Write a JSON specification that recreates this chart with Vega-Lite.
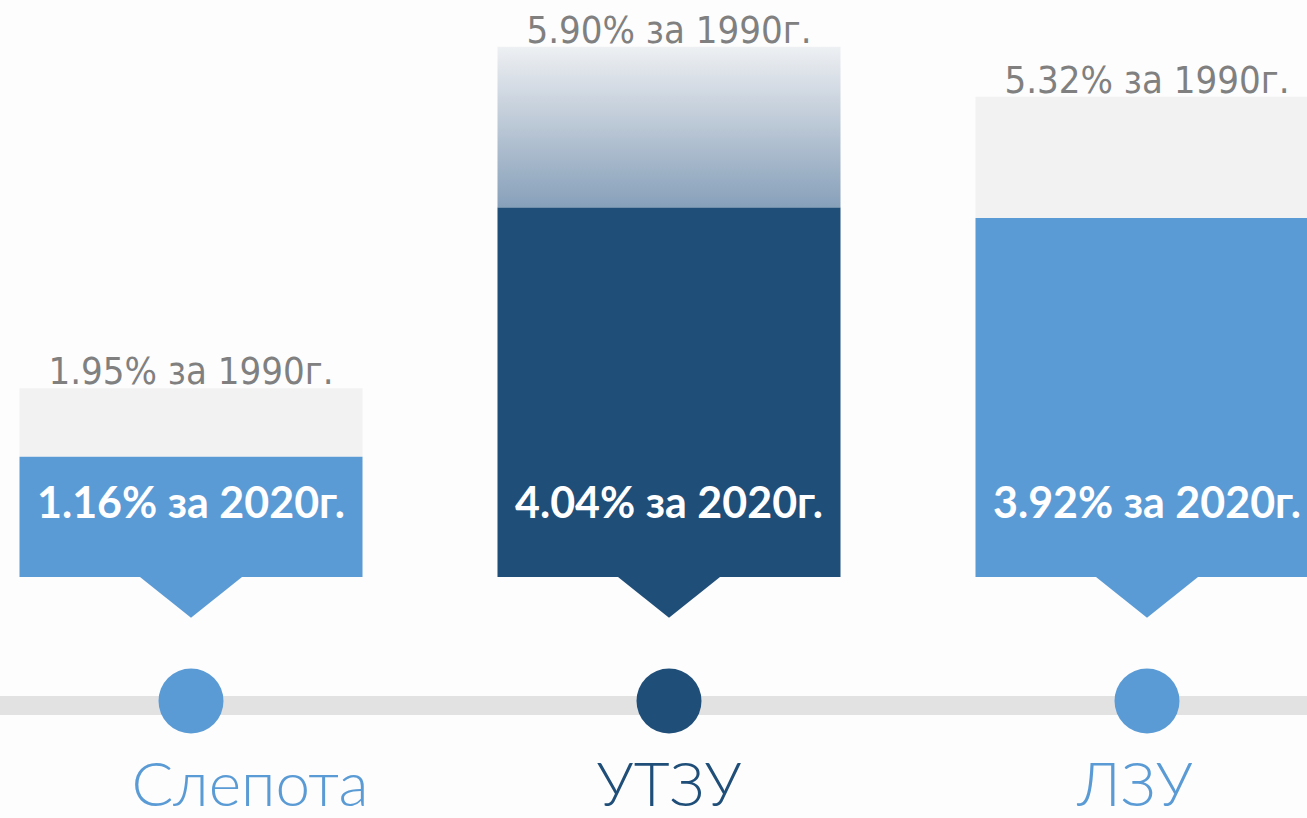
{
  "$schema": "https://vega.github.io/schema/vega-lite/v6.json",
  "width": 1307,
  "height": 818,
  "autosize": "none",
  "padding": 0,
  "background": "#FDFDFD",
  "config": {"view": {"stroke": null}},
  "data": {
    "values": [
      {"cat": "Слепота", "v1990": 1.95, "v2020": 1.16, "lbl1990": "1.95% за 1990г.", "lbl2020": "1.16% за 2020г."},
      {"cat": "УТЗУ", "v1990": 5.90, "v2020": 4.04, "lbl1990": "5.90% за 1990г.", "lbl2020": "4.04% за 2020г."},
      {"cat": "ЛЗУ", "v1990": 5.32, "v2020": 3.92, "lbl1990": "5.32% за 1990г.", "lbl2020": "3.92% за 2020г."}
    ]
  },
  "encoding": {
    "x": {
      "field": "cat", "type": "nominal", "sort": null, "axis": null,
      "scale": {"domain": ["Слепота", "УТЗУ", "ЛЗУ"], "range": [-48, 1386], "paddingInner": 0.2824, "paddingOuter": 0.1412}
    }
  },
  "layer": [
    {
      "mark": {"type": "rule", "color": "#E2E2E2", "strokeWidth": 19},
      "encoding": {
        "x": null,
        "y": {"datum": -1.717, "type": "quantitative", "scale": {"domain": [-3.017, 6.439], "nice": false, "zero": false}, "axis": null}
      }
    },
    {
      "transform": [{"filter": "datum.cat !== 'УТЗУ'"}],
      "mark": {"type": "bar", "fill": "#F2F2F2", "clip": true},
      "encoding": {
        "y": {"field": "v1990", "type": "quantitative", "scale": {"domain": [-3.017, 6.439], "nice": false, "zero": false}, "axis": null},
        "y2": {"field": "v2020"}
      }
    },
    {
      "transform": [{"filter": "datum.cat === 'УТЗУ'"}],
      "mark": {
        "type": "bar", "clip": true,
        "fill": {"gradient": "linear", "x1": 0, "y1": 0, "x2": 0, "y2": 1,
          "stops": [{"offset": 0, "color": "#EEF0F3"}, {"offset": 0.5, "color": "#BAC7D5"}, {"offset": 1, "color": "#87A0BA"}]}
      },
      "encoding": {
        "y": {"field": "v1990", "type": "quantitative", "scale": {"domain": [-3.017, 6.439], "nice": false, "zero": false}, "axis": null},
        "y2": {"field": "v2020"}
      }
    },
    {
      "mark": {"type": "bar", "clip": true},
      "encoding": {
        "y": {"field": "v2020", "type": "quantitative", "scale": {"domain": [-3.017, 6.439], "nice": false, "zero": false}, "axis": null},
        "y2": {"datum": -0.231},
        "color": {"field": "cat", "type": "nominal", "legend": null, "scale": {"domain": ["Слепота", "УТЗУ", "ЛЗУ"], "range": ["#5B9BD5", "#1F4E79", "#5B9BD5"]}}
      }
    },
    {
      "mark": {"type": "point", "shape": "M-1,0L1,0L0,0.8Z", "filled": true, "opacity": 1, "size": 10404, "strokeWidth": 0},
      "encoding": {
        "y": {"datum": -0.231, "type": "quantitative", "scale": {"domain": [-3.017, 6.439], "nice": false, "zero": false}, "axis": null},
        "color": {"field": "cat", "type": "nominal", "legend": null}
      }
    },
    {
      "mark": {"type": "circle", "opacity": 1, "size": 4225},
      "encoding": {
        "y": {"datum": -1.665, "type": "quantitative", "scale": {"domain": [-3.017, 6.439], "nice": false, "zero": false}, "axis": null},
        "color": {"field": "cat", "type": "nominal", "legend": null}
      }
    },
    {
      "mark": {"type": "text", "font": "DejaVu Sans Condensed, DejaVu Sans, sans-serif", "fontSize": 38, "color": "#808080", "baseline": "alphabetic", "dy": -4},
      "encoding": {
        "y": {"field": "v1990", "type": "quantitative", "scale": {"domain": [-3.017, 6.439], "nice": false, "zero": false}, "axis": null},
        "text": {"field": "lbl1990"}
      }
    },
    {
      "mark": {"type": "text", "font": "Lato", "fontWeight": "bold", "fontSize": 43, "color": "#FFFFFF", "baseline": "middle"},
      "encoding": {
        "y": {"datum": 0.601, "type": "quantitative", "scale": {"domain": [-3.017, 6.439], "nice": false, "zero": false}, "axis": null},
        "text": {"field": "lbl2020"}
      }
    },
    {
      "transform": [{"filter": "datum.cat === 'Слепота'"}],
      "mark": {"type": "text", "font": "Lato", "fontWeight": 300, "fontSize": 62, "baseline": "alphabetic", "dx": 59},
      "encoding": {
        "y": {"datum": -2.879, "type": "quantitative", "scale": {"domain": [-3.017, 6.439], "nice": false, "zero": false}, "axis": null},
        "text": {"field": "cat"},
        "color": {"field": "cat", "type": "nominal", "legend": null}
      }
    },
    {
      "transform": [{"filter": "datum.cat === 'УТЗУ'"}],
      "mark": {"type": "text", "font": "Lato", "fontWeight": 300, "fontSize": 62, "baseline": "alphabetic"},
      "encoding": {
        "y": {"datum": -2.879, "type": "quantitative", "scale": {"domain": [-3.017, 6.439], "nice": false, "zero": false}, "axis": null},
        "text": {"field": "cat"},
        "color": {"field": "cat", "type": "nominal", "legend": null}
      }
    },
    {
      "transform": [{"filter": "datum.cat === 'ЛЗУ'"}],
      "mark": {"type": "text", "font": "Lato", "fontWeight": 300, "fontSize": 62, "baseline": "alphabetic", "dx": -12},
      "encoding": {
        "y": {"datum": -2.879, "type": "quantitative", "scale": {"domain": [-3.017, 6.439], "nice": false, "zero": false}, "axis": null},
        "text": {"field": "cat"},
        "color": {"field": "cat", "type": "nominal", "legend": null}
      }
    }
  ]
}
